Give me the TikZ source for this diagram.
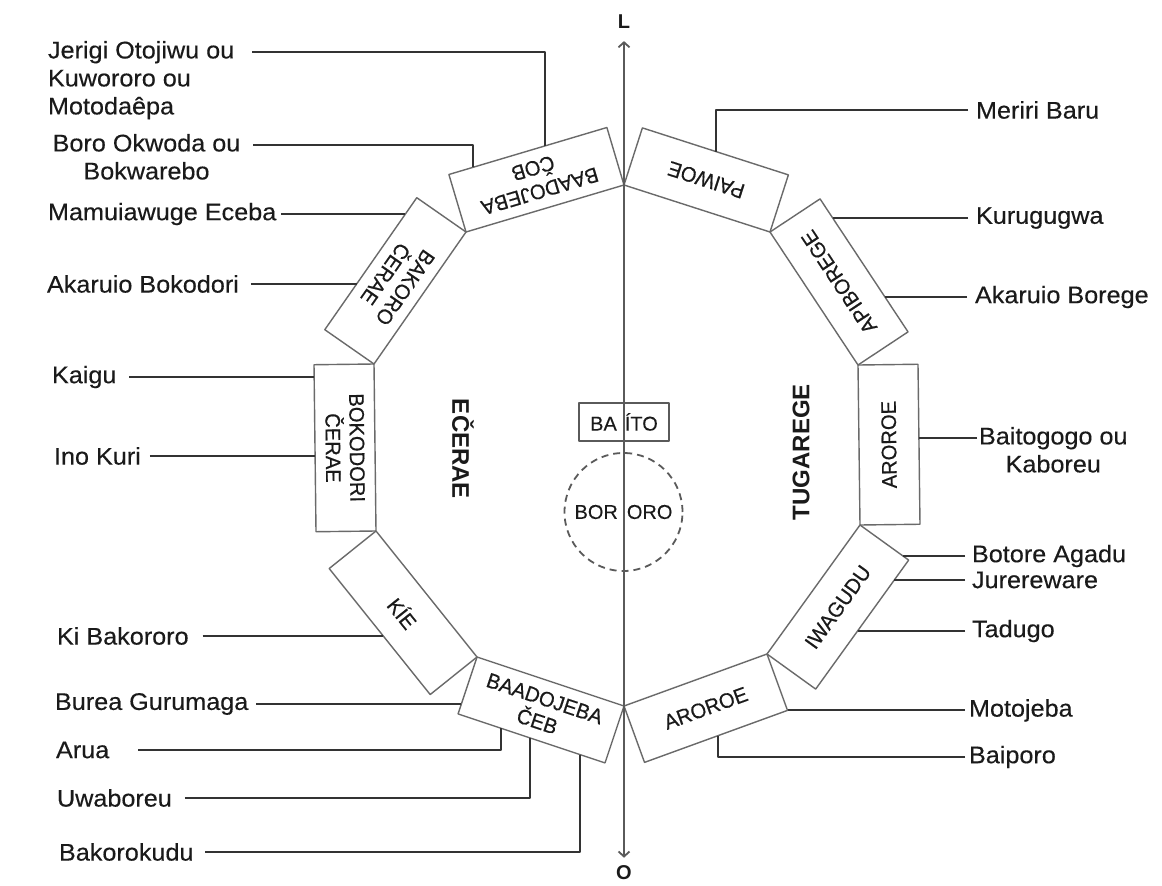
\documentclass[tikz,border=0pt]{standalone}
\usepackage{fontspec}
\setmainfont{Liberation Sans}
\newfontfamily\lblfont[FakeStretch=1.05,FakeBold=0.3]{Liberation Sans}
\newfontfamily\bxfont[FakeStretch=0.96,FakeBold=0.5]{Liberation Sans}
\newfontfamily\ctrfont[FakeBold=0.2]{Liberation Sans}
\usetikzlibrary{calc,arrows.meta}
\definecolor{ink}{HTML}{1A1A1A}
\definecolor{leadc}{HTML}{333333}
\definecolor{boxc}{HTML}{6A6A6A}
\definecolor{axisc}{HTML}{5A5A5A}
% box on a decagon edge: name, from, to, text
\newcommand\ringbox[4]{%
  \path let \p1=($(#3)-(#2)$), \n1={atan2(\y1,\x1)}, \n2={veclen(\x1,\y1)} in
    node[rbox, rotate=\n1, minimum width=\n2, anchor=north] (#1) at ($(#2)!0.5!(#3)$) {#4};}
% horizontal leader: start, point giving y, side end A, side end B
\newcommand\hlead[4]{%
  \draw[lead] let \p1=#2, \p2=#3, \p3=#4 in #1 -- ({\x2+(\x3-\x2)*((\y1-\y2)/(\y3-\y2))},\y1);}
% leader going across then down/up: start, x, side end A, side end B
\newcommand\vlead[4]{%
  \draw[lead] let \p2=#3, \p3=#4 in #1 -| ({#2pt},{\y2+(\y3-\y2)*((#2pt-\x2)/(\x3-\x2))});}
\begin{document}
\begin{tikzpicture}[x=1pt,y=-1pt,line join=round,
  rbox/.style={draw=boxc, line width=1.4pt, minimum height=60pt, inner sep=0pt, outer sep=0pt, align=center, text=ink, font=\bxfont\fontsize{21}{24}\selectfont},
  lead/.style={draw=leadc, line width=2pt},
  lbl/.style={text=ink, inner sep=0pt, outer sep=0pt, font=\lblfont\fontsize{24}{28}\selectfont},
  moiety/.style={text=ink, inner sep=0pt, font=\bfseries\fontsize{24}{28}\selectfont},
  ctr/.style={text=ink, inner sep=0pt, font=\ctrfont\fontsize{20}{24}\selectfont},
  compass/.style={text=ink, inner sep=0pt, font=\bfseries\fontsize{20}{24}\selectfont},
  >={Straight Barb[length=5pt,width=11pt]}
]
\fill[white] (0,0) rectangle (1162,886);
\useasboundingbox (0,0) rectangle (1162,886);

% decagon junctions
\coordinate (J1) at (624,185);
\coordinate (J2) at (466,232);
\coordinate (J3) at (374,364);
\coordinate (J4) at (376,531);
\coordinate (J5) at (477,657);
\coordinate (J6) at (624,706);
\coordinate (J7) at (767,654);
\coordinate (J8) at (860,525);
\coordinate (J9) at (858,365);
\coordinate (J10) at (770,232);

% ring of boxes
\ringbox{Bcob}{J1}{J2}{BAADOJEBA\\ČOB}
\ringbox{Bkc}{J2}{J3}{BAKORO\\ČERAE}
\ringbox{Bdc}{J3}{J4}{BOKODORI\\ČERAE}
\ringbox{Kie}{J4}{J5}{KÍE}
\ringbox{Bceb}{J5}{J6}{BAADOJEBA\\ČEB}
\ringbox{AroB}{J6}{J7}{AROROE}
\ringbox{Iwa}{J7}{J8}{IWAGUDU}
\ringbox{AroR}{J8}{J9}{AROROE}
\ringbox{Api}{J9}{J10}{APIBOREGE}
\ringbox{Pai}{J10}{J1}{PAIWOE}

% centre
\node[moiety, rotate=-90] (ece) at (463,449) {EČERAE};
\node[moiety, rotate=90] (tug) at (801,452) {TUGAREGE};
\node[ctr, draw=axisc, line width=1.5pt, minimum width=90pt, minimum height=38pt] (baito) at (624,422) {BA\kern8pt ÍTO};
\node[ctr, circle, draw=axisc, line width=1.8pt, dash pattern=on 7pt off 5pt, minimum size=118pt] (bororo) at (623.5,512) {BOR\kern9pt ORO};

% axis
\node[compass] (Ltop) at (624,22) {L};
\node[compass] (Obot) at (624,873) {O};
\draw[draw=axisc, line width=1.8pt, <->] ([yshift=8pt]Obot.north) -- ([yshift=-12pt]Ltop.south);

% left labels
\node[lbl, align=left, anchor=north west] (jer) at (48,41) {Jerigi Otojiwu ou\\Kuwororo ou\\Motodaêpa};
\coordinate (jerS) at (252,52);
\vlead{(jerS)}{545}{(Bcob.south west)}{(Bcob.south east)}

\node[lbl, align=center, anchor=north] (boro) at (146.5,134) {Boro Okwoda ou\\Bokwarebo};
\coordinate (boroS) at (253,145);
\vlead{(boroS)}{473}{(Bcob.south west)}{(Bcob.south east)}

\node[lbl, anchor=west] (mam) at (48,214) {Mamuiawuge Eceba};
\hlead{([xshift=5pt]mam.east)}{(mam.east)}{(Bkc.south west)}{(Bkc.south east)}

\node[lbl, anchor=west] (akb) at (47,284) {Akaruio Bokodori};
\hlead{([xshift=12pt]akb.east)}{(akb.east)}{(Bkc.south west)}{(Bkc.south east)}

\node[lbl, anchor=west] (kai) at (52,377) {Kaigu};
\hlead{([xshift=13pt]kai.east)}{(kai.east)}{(Bdc.south west)}{(Bdc.south east)}

\node[lbl, anchor=west] (ino) at (54,456) {Ino Kuri};
\hlead{([xshift=9pt]ino.east)}{(ino.east)}{(Bdc.south west)}{(Bdc.south east)}

\node[lbl, anchor=west] (kib) at (57,636) {Ki Bakororo};
\hlead{([xshift=14pt]kib.east)}{(kib.east)}{(Kie.south west)}{(Kie.south east)}

\node[lbl, anchor=west] (bur) at (55,704) {Burea Gurumaga};
\hlead{([xshift=8pt]bur.east)}{(bur.east)}{(Bceb.north west)}{(Bceb.south west)}

\node[lbl, anchor=west] (aru) at (56,750) {Arua};
\vlead{([xshift=29pt]aru.east)}{501}{(Bceb.south west)}{(Bceb.south east)}

\node[lbl, anchor=west] (uwa) at (57,798) {Uwaboreu};
\vlead{([xshift=13pt]uwa.east)}{530}{(Bceb.south west)}{(Bceb.south east)}

\node[lbl, anchor=west] (bkd) at (59,852) {Bakorokudu};
\vlead{([xshift=12pt]bkd.east)}{580}{(Bceb.south west)}{(Bceb.south east)}

% right labels
\node[lbl, anchor=west] (mer) at (976,110) {Meriri Baru};
\vlead{([xshift=-8pt]mer.west)}{716}{(Pai.south west)}{(Pai.south east)}

\node[lbl, anchor=west] (kur) at (976,218) {Kurugugwa};
\hlead{([xshift=-8pt]kur.west)}{(kur.west)}{(Api.south west)}{(Api.south east)}

\node[lbl, anchor=west] (akr) at (975,297) {Akaruio Borege};
\hlead{([xshift=-8pt]akr.west)}{(akr.west)}{(Api.south west)}{(Api.south east)}

\node[lbl, align=center, anchor=north west] (bai) at (979,427) {Baitogogo ou\\Kaboreu};
\coordinate (baiS) at (977,438);
\hlead{(baiS)}{(baiS)}{(AroR.south west)}{(AroR.south east)}

\node[lbl, anchor=west] (bot) at (972,556) {Botore Agadu};
\hlead{([xshift=-7pt]bot.west)}{(bot.west)}{(Iwa.north east)}{(Iwa.south east)}

\node[lbl, anchor=west] (jur) at (972,580) {Jurereware};
\hlead{([xshift=-7pt]jur.west)}{(jur.west)}{(Iwa.south west)}{(Iwa.south east)}

\node[lbl, anchor=west] (tad) at (972,631) {Tadugo};
\hlead{([xshift=-7pt]tad.west)}{(tad.west)}{(Iwa.south west)}{(Iwa.south east)}

\coordinate (motX) at (969,0);
\node[lbl, anchor=west] (mot) at (AroB.south east -| motX) {Motojeba};
\draw[lead] (AroB.south east) -- ([xshift=-4pt]mot.west);

\node[lbl, anchor=west] (bpo) at (969,757) {Baiporo};
\vlead{([xshift=-4pt]bpo.west)}{718}{(AroB.south west)}{(AroB.south east)}
\end{tikzpicture}
\end{document}
